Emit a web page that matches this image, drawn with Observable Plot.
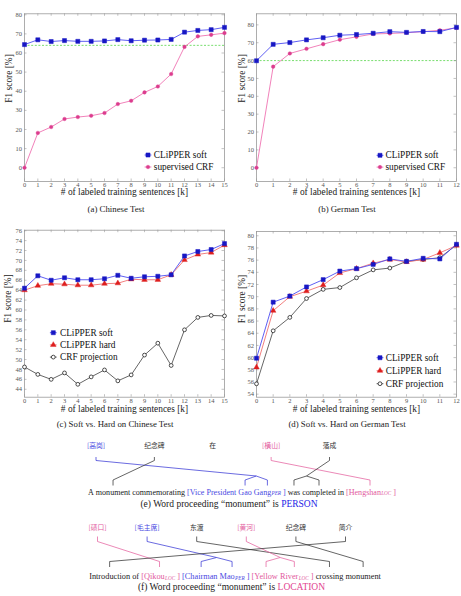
<!DOCTYPE html>
<html>
<head>
<meta charset="utf-8">
<script src="https://cdn.jsdelivr.net/npm/d3@7"></script>
<script src="https://cdn.jsdelivr.net/npm/@observablehq/plot@0.6"></script>
<style>
  body { margin: 0; background: #fff; }
  #page { position: relative; width: 461px; height: 596px; overflow: hidden;
          font-family: "Liberation Serif", "Times New Roman", serif; color: #222; }
  .panel { position: absolute; }
  .panel svg { display: block; }
  .cap { position: absolute; transform: translate(-50%, -50%); white-space: nowrap; font-size: 8.8px; }
  .cap.big { font-size: 9.5px; }
</style>
</head>
<body>
<div id="page"></div>
<script>
// ---- F1 scores (%) against thousands of labeled training sentences ----
const sentencesZh = [0, 1, 2, 3, 4, 5, 6, 7, 8, 9, 10, 11, 12, 13, 14, 15];
const sentencesDe = [0, 1, 2, 3, 4, 5, 6, 7, 8, 9, 10, 11, 12];

const zhSoft       = [64.4, 66.9, 66.0, 66.5, 66.1, 66.1, 66.3, 67.0, 66.4, 66.7, 66.8, 67.1, 70.9, 71.8, 72.2, 73.4];
const zhSupervised = [0, 18.2, 21.3, 25.5, 26.5, 27.2, 28.6, 33.3, 35.0, 39.4, 42.5, 49.0, 63.2, 68.7, 69.5, 70.4];
const zhHard       = [64.0, 64.9, 65.3, 65.2, 65.0, 65.0, 65.3, 65.4, 66.2, 66.1, 66.1, 67.1, 70.1, 71.2, 71.6, 73.1];
const zhProjection = [48.5, 47.0, 46.0, 47.3, 45.0, 46.5, 47.9, 45.7, 46.9, 50.9, 53.3, 48.8, 56.0, 58.5, 58.9, 58.8];

const deSoft       = [59.9, 69.1, 70.1, 71.6, 72.8, 74.2, 74.6, 75.3, 76.2, 75.8, 76.3, 76.2, 78.6];
const deSupervised = [0, 56.6, 64.0, 66.6, 69.2, 71.7, 73.3, 74.9, 75.2, 75.6, 76.2, 77.0, 78.3];
const deHard       = [58.4, 67.7, 70.0, 70.9, 71.9, 73.9, 74.6, 75.5, 76.1, 75.7, 76.1, 77.2, 78.4];
const deProjection = [55.7, 64.4, 66.6, 69.7, 71.2, 71.5, 73.1, 74.4, 74.7, 75.8, 76.1, 76.4, 78.5];

const zhBaseline = 64.0;
const deBaseline = 60.0;

const ticksWide  = [0, 10, 20, 30, 40, 50, 60, 70, 80];
const ticksZhZoom = [44, 46, 48, 50, 52, 54, 56, 58, 60, 62, 64, 66, 68, 70, 72, 74, 76];
const ticksDeZoom = [54, 56, 58, 60, 62, 64, 66, 68, 70, 72, 74, 76, 78, 80];

// ---- word alignments ----
const sourceE = [
  {text: "[高岗]", tag: "per"}, {text: "纪念碑"}, {text: "在"}, {text: "[横山]", tag: "loc"}, {text: "落成"}
];
const targetE = [
  {text: "A"}, {text: "monument"}, {text: "commemorating"},
  {text: "[Vice", tag: "per"}, {text: "President", tag: "per"}, {text: "Gao", tag: "per"},
  {text: "Gang", tag: "per", sub: "PER"}, {text: "]", tag: "per"},
  {text: "was"}, {text: "completed"}, {text: "in"},
  {text: "[Hengshan", tag: "loc", sub: "LOC"}, {text: "]", tag: "loc"}
];
const linksE = [
  {src: 0, tgt: [5, 6]}, {src: 1, tgt: [1]}, {src: 3, tgt: [11]}, {src: 4, tgt: [8, 9]}
];

const sourceF = [
  {text: "[碛口]", tag: "loc"}, {text: "[毛主席]", tag: "per"}, {text: "东渡"},
  {text: "[黄河]", tag: "loc"}, {text: "纪念碑"}, {text: "简介"}
];
const targetF = [
  {text: "Introduction"}, {text: "of"},
  {text: "[Qikou", tag: "loc", sub: "LOC"}, {text: "]", tag: "loc"},
  {text: "[Chairman", tag: "per"}, {text: "Mao", tag: "per", sub: "PER"}, {text: "]", tag: "per"},
  {text: "[Yellow", tag: "loc"}, {text: "River", tag: "loc", sub: "LOC"}, {text: "]", tag: "loc"},
  {text: "crossing"}, {text: "monument"}
];
const linksF = [
  {src: 0, tgt: [2]}, {src: 1, tgt: [4, 5]}, {src: 2, tgt: [10]},
  {src: 3, tgt: [7, 8]}, {src: 4, tgt: [11]}, {src: 5, tgt: [0]}
];

// ---- styles ----
const SERIF = "'Liberation Serif', 'Times New Roman', serif";
const CJK = "'Noto Sans CJK SC', sans-serif";
const styles = {
  soft:       {label: "CLiPPER soft",   line: "#4d4df2", symbol: "square",   r: 2.3, fill: "#1717c4", stroke: "#1717c4", sw: 0.5},
  supervised: {label: "supervised CRF", line: "#ef74b2", symbol: "circle",   r: 1.8, fill: "#dc3c8e", stroke: "#dc3c8e", sw: 0.4},
  hard:       {label: "CLiPPER hard",   line: "#f07272", symbol: "triangle", r: 2.1, fill: "#de1e1e", stroke: "#de1e1e", sw: 0.4},
  projection: {label: "CRF projection", line: "#555555", symbol: "circle",   r: 1.9, fill: "#ffffff", stroke: "#222222", sw: 0.8}
};
const tagText = {per: "#4a4ae2", loc: "#e2599d"};
const tagLine = {per: "#3a3ad6", loc: "#e4619f"};

const page = document.getElementById("page");

function panel(left, top) {
  const div = document.createElement("div");
  div.className = "panel";
  div.style.left = left + "px";
  div.style.top = top + "px";
  page.appendChild(div);
  return div;
}

function caption(html, cx, cy, big) {
  const div = document.createElement("div");
  div.className = "cap" + (big ? " big" : "");
  div.style.left = cx + "px";
  div.style.top = cy + "px";
  div.innerHTML = html;
  page.appendChild(div);
}

function lineChart(o) {
  const innerW = o.width - o.ml - o.mr;
  const innerH = o.height - o.mt - o.mb;
  const frameGray = "#9a9a9a";
  const marks = [];
  if (o.baseline != null) {
    marks.push(Plot.ruleY([o.baseline], {stroke: "#57d64a", strokeWidth: 0.8, strokeDasharray: "2,1.6"}));
  }
  marks.push(
    Plot.frame({stroke: frameGray, strokeWidth: 0.8}),
    // inward ticks on all four sides
    Plot.ruleX(o.xs, {x: d => d, insetTop: innerH - 2.5, stroke: frameGray, strokeWidth: 0.6}),
    Plot.ruleX(o.xs, {x: d => d, insetBottom: innerH - 2.5, stroke: frameGray, strokeWidth: 0.6}),
    Plot.ruleY(o.yTicks, {y: d => d, insetRight: innerW - 2.5, stroke: frameGray, strokeWidth: 0.6}),
    Plot.ruleY(o.yTicks, {y: d => d, insetLeft: innerW - 2.5, stroke: frameGray, strokeWidth: 0.6}),
    Plot.axisX({ticks: o.xs, tickSize: 0, tickPadding: o.xPad, label: null, fontSize: 6.5, color: "#555"}),
    Plot.axisY({ticks: o.yTicks, tickSize: 0, tickPadding: 2.5, label: null, fontSize: 6.5, color: "#555"})
  );
  [...o.series].reverse().forEach(s => {
    const st = styles[s.key];
    marks.push(Plot.line(s.values, {x: (d, i) => o.xs[i], y: d => d, stroke: st.line, strokeWidth: 0.9}));
    marks.push(Plot.dot(s.values, {x: (d, i) => o.xs[i], y: d => d, symbol: st.symbol, r: st.r,
      fill: st.fill, stroke: st.stroke, strokeWidth: st.sw}));
  });
  marks.push(
    Plot.text(["# of labeled training sentences [k]"], {frameAnchor: "bottom", dy: o.xLabelDy, text: d => d,
      fontSize: 9.4, fill: "#222"}),
    Plot.text(["F1 score [%]"], {frameAnchor: "left", dx: o.yLabelDx, dy: o.yLabelDy, rotate: -90, text: d => d,
      fontSize: 9.4, fill: "#222"})
  );
  const svg = Plot.plot({
    width: o.width, height: o.height,
    marginLeft: o.ml, marginRight: o.mr, marginTop: o.mt, marginBottom: o.mb,
    x: {domain: [0, o.xs[o.xs.length - 1]]},
    y: {domain: o.yDomain},
    style: {fontFamily: SERIF, background: "transparent", overflow: "visible"},
    marks
  });
  // legend
  const symbols = {square: d3.symbolSquare, circle: d3.symbolCircle, triangle: d3.symbolTriangle};
  const g = d3.select(svg).append("g").attr("font-family", SERIF).attr("font-size", 9.3)
    .attr("fill", "#111").attr("text-anchor", "start");
  o.series.forEach((s, i) => {
    const st = styles[s.key];
    const row = g.append("g").attr("transform", `translate(${o.legend.x},${o.legend.y + i * o.legend.dy})`);
    row.append("line").attr("x1", -3.4).attr("x2", 3.4).attr("stroke", st.line).attr("stroke-width", 0.9);
    row.append("path").attr("d", d3.symbol(symbols[st.symbol], Math.PI * st.r * st.r)())
      .attr("fill", st.fill).attr("stroke", st.stroke).attr("stroke-width", st.sw);
    row.append("text").attr("x", o.legend.tx).attr("dy", "0.34em").attr("text-anchor", "start").text(st.label);
  });
  panel(o.left, o.top).appendChild(svg);
}

lineChart({
  left: 0, top: 0, width: 230, height: 200, ml: 24, mr: 6, mt: 13.3, mb: 19,
  xs: sentencesZh, yDomain: [-7.2, 80.5], yTicks: ticksWide, baseline: zhBaseline, xPad: 1,
  series: [{key: "soft", values: zhSoft}, {key: "supervised", values: zhSupervised}],
  xLabelDy: 13.2, yLabelDx: -16, yLabelDy: 5,
  legend: {x: 148, y: 155, dy: 12, tx: 5.8}
});
lineChart({
  left: 230, top: 0, width: 231, height: 200, ml: 26, mr: 5, mt: 13.3, mb: 19,
  xs: sentencesDe, yDomain: [-7.7, 86.2], yTicks: ticksWide, baseline: deBaseline, xPad: 1,
  series: [{key: "soft", values: deSoft}, {key: "supervised", values: deSupervised}],
  xLabelDy: 13.2, yLabelDx: -14.3, yLabelDy: 5,
  legend: {x: 150, y: 155.3, dy: 11.8, tx: 5.5}
});
lineChart({
  left: 0, top: 220, width: 230, height: 200, ml: 24, mr: 6, mt: 9.7, mb: 23.3,
  xs: sentencesZh, yDomain: [42.4, 76.1], yTicks: ticksZhZoom, baseline: null, xPad: 1.5,
  series: [{key: "soft", values: zhSoft}, {key: "hard", values: zhHard}, {key: "projection", values: zhProjection}],
  xLabelDy: 14.5, yLabelDx: -16.7, yLabelDy: 9,
  legend: {x: 53.3, y: 112.7, dy: 12.2, tx: 6.7}
});
lineChart({
  left: 230, top: 220, width: 231, height: 200, ml: 26, mr: 5, mt: 11, mb: 23.3,
  xs: sentencesDe, yDomain: [53.5, 80.7], yTicks: ticksDeZoom, baseline: null, xPad: 1.5,
  series: [{key: "soft", values: deSoft}, {key: "hard", values: deHard}, {key: "projection", values: deProjection}],
  xLabelDy: 14.5, yLabelDx: -14.3, yLabelDy: 9,
  legend: {x: 150, y: 137.7, dy: 13, tx: 5.7}
});

caption("(a) Chinese Test", 116, 209.3);
caption("(b) German Test", 347, 209.3);
caption("(c) Soft vs. Hard on Chinese Test", 115, 424.3);
caption("(d) Soft vs. Hard on German Test", 347, 424.3);

// ---- alignment diagrams ----
const ctx = document.createElement("canvas").getContext("2d");
function textWidth(t, size, style) {
  ctx.font = `${style || ""} ${size}px "Liberation Serif"`;
  return ctx.measureText(t).width;
}

function alignment(o) {
  const mainSize = o.fontSize, subSize = 5.2;
  const space = textWidth(" ", mainSize);
  const main = [], subs = [], anchors = [];
  let x = 0;
  o.target.forEach(w => {
    const wWidth = textWidth(w.text, mainSize);
    const lead = w.text.startsWith("[") ? textWidth("[", mainSize) : 0;
    main.push({x, text: w.text, color: w.tag ? tagText[w.tag] : "#222"});
    let end = x + wWidth;
    if (w.sub) {
      subs.push({x: end + 0.3, text: w.sub, color: tagText[w.tag]});
      end += 0.3 + textWidth(w.sub, subSize, "italic");
    }
    anchors.push((x + lead + end) / 2);
    x = end + space;
  });
  const shift = o.targetCenter - (x - space) / 2;
  main.forEach(d => d.x += shift);
  subs.forEach(d => d.x += shift);
  const tx = anchors.map(a => a + shift);

  const srcX = d3.scalePoint().domain(d3.range(o.source.length)).range(o.sourceSpan);
  const y = o.rows;
  const segs = [];
  o.links.forEach(l => {
    const tag = o.source[l.src].tag;
    const color = tag ? tagLine[tag] : "#333";
    const sx = srcX(l.src);
    segs.push({x1: sx, y1: y.srcTick0, x2: sx, y2: y.srcTick1, color});
    const xs = l.tgt.map(t => tx[t]);
    if (xs.length === 1) {
      segs.push({x1: sx, y1: y.srcTick1, x2: xs[0], y2: y.tgtTick0, color});
    } else {
      const jx = d3.mean(xs), jy = y.tgtTick0 - 4;
      segs.push({x1: sx, y1: y.srcTick1, x2: jx, y2: jy, color});
      xs.forEach(t => segs.push({x1: jx, y1: jy, x2: t, y2: y.tgtTick0, color}));
    }
    xs.forEach(t => segs.push({x1: t, y1: y.tgtTick0, x2: t, y2: y.tgtTick1, color}));
  });

  const svg = Plot.plot({
    width: 461, height: o.height, margin: 0,
    x: {type: "identity", axis: null}, y: {type: "identity", axis: null},
    style: {fontFamily: SERIF, background: "transparent", overflow: "visible"},
    marks: [
      Plot.link(segs, {x1: "x1", y1: "y1", x2: "x2", y2: "y2", stroke: "color", strokeWidth: 0.75}),
      Plot.text(o.source, {x: (d, i) => srcX(i), y: () => y.src, text: "text",
        fill: d => d.tag ? tagText[d.tag] : "#333", fontFamily: CJK, fontSize: 6.8}),
      Plot.text(main, {x: "x", y: () => y.tgt, text: "text", fill: "color", textAnchor: "start", fontSize: mainSize}),
      Plot.text(subs, {x: "x", y: () => y.tgt + 1.8, text: "text", fill: "color", textAnchor: "start",
        fontSize: subSize, fontStyle: "italic"})
    ]
  });
  panel(0, o.top).appendChild(svg);
}

alignment({
  top: 436, height: 62, source: sourceE, target: targetE, links: linksE, fontSize: 8.05,
  sourceSpan: [95.5, 329], targetCenter: 241.5,
  rows: {src: 9.5, srcTick0: 20.5, srcTick1: 24, tgtTick0: 43.5, tgtTick1: 49, tgt: 55.5}
});
alignment({
  top: 516, height: 66, source: sourceF, target: targetF, links: linksF, fontSize: 8.3,
  sourceSpan: [97, 345], targetCenter: 234.5,
  rows: {src: 11, srcTick0: 20, srcTick1: 25, tgtTick0: 45, tgtTick1: 50.5, tgt: 59.8}
});

caption('(e) Word proceeding “monument” is <span style="color:#2424e6">PERSON</span>', 229, 504, true);
caption('(f) Word proceeding “monument” is <span style="color:#e2448f">LOCATION</span>', 231.5, 587, true);
</script>
</body>
</html>
